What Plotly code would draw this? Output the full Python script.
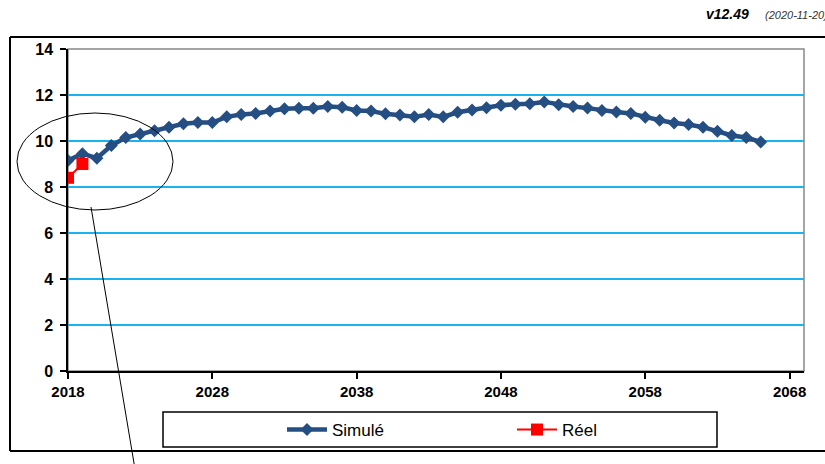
import plotly.graph_objects as go

years_sim = list(range(2018, 2067))
simule = [9.15, 9.45, 9.25, 9.8, 10.15, 10.3, 10.45, 10.6, 10.75, 10.8,
          10.8, 11.05, 11.15, 11.2, 11.3, 11.4, 11.42, 11.42, 11.5, 11.47,
          11.33, 11.3, 11.18, 11.13, 11.05, 11.15, 11.05, 11.25, 11.35, 11.45,
          11.55, 11.6, 11.62, 11.7, 11.58, 11.5, 11.43, 11.33, 11.26, 11.2,
          11.03, 10.9, 10.78, 10.72, 10.6, 10.42, 10.24, 10.15, 9.96]
years_reel = [2018, 2019]
reel = [8.4, 9.0]
x_ticks = [2018, 2028, 2038, 2048, 2058, 2068]
y_ticks = [0, 2, 4, 6, 8, 10, 12, 14]

W, H = 825, 464
L, T = 68, 49
pw, ph = 736, 322
R = W - L - pw
B = H - T - ph


def px(xs):
    return (xs - L) / pw


def py(ys):
    return (T + ph - ys) / ph


fig = go.Figure()
fig.add_trace(go.Scatter(
    x=years_sim, y=simule, name="Simulé", mode="lines+markers",
    line=dict(color="#254E83", width=4.5),
    marker=dict(symbol="diamond", size=10, color="#254E83"),
))
fig.add_trace(go.Scatter(
    x=years_reel, y=reel, name="Réel", mode="lines+markers",
    line=dict(color="#FF0000", width=2),
    marker=dict(symbol="square", size=12, color="#FF0000"),
))

frame = dict(color="black", width=2)
shapes = [
    dict(type="rect", xref="paper", yref="paper", x0=0, x1=1, y0=0, y1=1,
         line=dict(color="#888888", width=1.5), layer="below"),
    # outer frame: top, left, bottom (right side lies beyond the picture)
    dict(type="line", xref="paper", yref="paper", x0=px(10), x1=px(826),
         y0=py(37), y1=py(37), line=frame),
    dict(type="line", xref="paper", yref="paper", x0=px(10), x1=px(10),
         y0=py(37), y1=py(451), line=frame),
    dict(type="line", xref="paper", yref="paper", x0=px(10), x1=px(826),
         y0=py(451), y1=py(451), line=frame),
    dict(type="rect", xref="paper", yref="paper", x0=px(163), x1=px(717),
         y0=py(447), y1=py(412), line=dict(color="black", width=1.5)),
    dict(type="circle", xref="paper", yref="paper", x0=px(17), x1=px(173),
         y0=py(210), y1=py(113), line=dict(color="black", width=1)),
    dict(type="line", xref="paper", yref="paper", x0=px(91), y0=py(207),
         x1=px(136), y1=py(475), line=dict(color="black", width=1)),
]

annotations = [
    dict(xref="paper", yref="paper", x=px(751), y=py(14), xanchor="right",
         yanchor="middle", showarrow=False, text="<b><i>v12.49</i></b>",
         font=dict(family="Liberation Sans", size=14, color="black")),
    dict(xref="paper", yref="paper", x=px(763), y=py(15), xanchor="left",
         yanchor="middle", showarrow=False, text="<i>(2020-11-20)</i>",
         font=dict(family="Liberation Sans", size=11, color="#333333")),
]

fig.update_layout(
    width=W, height=H, autosize=False,
    margin=dict(l=L, r=R, t=T, b=B, pad=0),
    paper_bgcolor="white", plot_bgcolor="white",
    font=dict(family="Liberation Sans", color="black"),
    showlegend=True,
    legend=dict(orientation="h", xref="paper", yref="paper",
                x=px(282), y=py(430), xanchor="left", yanchor="middle",
                bgcolor="rgba(0,0,0,0)", borderwidth=0,
                font=dict(family="Liberation Sans", size=17, color="black"),
                entrywidth=175, entrywidthmode="pixels", itemwidth=40),
    xaxis=dict(range=[2018, 2069], tickvals=x_ticks,
               ticktext=[f"<b>{v}</b>" for v in x_ticks],
               showgrid=False, zeroline=False, showline=True,
               linecolor="black", linewidth=1.5, ticks="outside",
               ticklen=6, tickcolor="black", tickwidth=1.5,
               tickfont=dict(size=15, family="Liberation Sans")),
    yaxis=dict(range=[0, 14], tickvals=y_ticks,
               ticktext=[f"<b>{v}</b>" for v in y_ticks],
               showgrid=True, gridcolor="#19B4F0", gridwidth=1.5,
               zeroline=False, showline=True, linecolor="black",
               linewidth=1.5, ticks="outside", ticklen=6, tickcolor="black",
               tickwidth=1.5, ticklabelstandoff=4,
               tickfont=dict(size=16, family="Liberation Sans")),
    shapes=shapes,
    annotations=annotations,
)

fig.write_html(
    "out.html",
    config={"displayModeBar": False},
    post_script="document.body.style.margin='0';document.body.style.overflow='hidden';",
)
